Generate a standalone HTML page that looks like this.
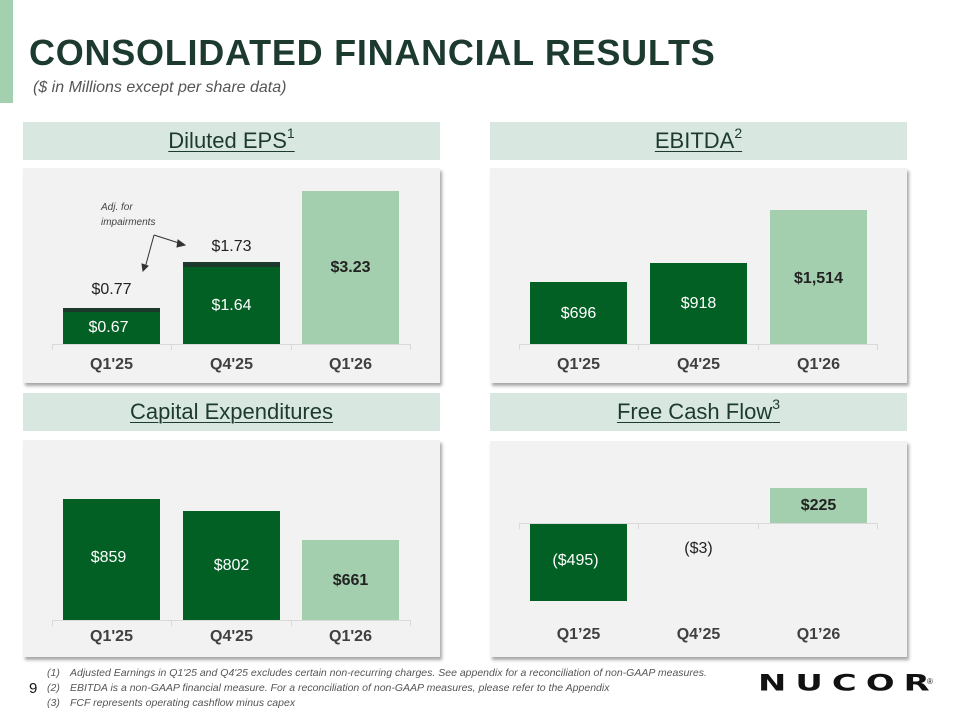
<!DOCTYPE html>
<html><head><meta charset="utf-8"><style>
*{margin:0;padding:0;box-sizing:border-box}
body{width:960px;height:720px;background:#fff;position:relative;overflow:hidden;font-family:"Liberation Sans",Arial,sans-serif}
.a{position:absolute}
.hdr{position:absolute;height:38px;background:#d8e8e1;text-align:center;font-size:22px;line-height:38px;color:#1d3a2c}
.hdr span{text-decoration:underline;text-decoration-thickness:1px;text-underline-offset:3px}
.hdr sup{font-size:14px;vertical-align:10px;line-height:0}
.pnl{position:absolute;background:#f2f2f2;box-shadow:2px 3px 3px rgba(0,0,0,.35)}
.bar{position:absolute;background:#036024}
.lt{background:#a3cfae}
.axis{position:absolute;height:1px;background:#d9d9d9}
.tk{position:absolute;width:1px;height:6px;background:#d9d9d9}
.lbl{position:absolute;width:97px;text-align:center;font-size:16px;font-weight:bold;color:#404040}
.v{position:absolute;width:97px;text-align:center;font-size:16px}
.w{color:#fff}.b{color:#222;font-weight:bold}.k{color:#222}
.fn{position:absolute;font-size:10.5px;font-style:italic;color:#555;left:47px}
.fn b{font-weight:normal;display:inline-block;width:23px}
</style></head><body>
<div class="a" style="left:0;top:0;width:13px;height:103px;background:#a3d0ae"></div>
<div class="a" style="left:29px;top:32px;font-size:36px;font-weight:bold;color:#1d3a2f;letter-spacing:0.75px">CONSOLIDATED FINANCIAL RESULTS</div>
<div class="a" style="left:33px;top:79px;font-size:16px;font-style:italic;color:#555">($ in Millions except per share data)</div>

<div class="hdr" style="left:23px;top:122px;width:417px"><span>Diluted EPS<sup>1</sup></span></div>
<div class="hdr" style="left:490px;top:122px;width:417px"><span>EBITDA<sup>2</sup></span></div>
<div class="hdr" style="left:23px;top:393px;width:417px"><span>Capital Expenditures</span></div>
<div class="hdr" style="left:490px;top:393px;width:417px"><span>Free Cash Flow<sup>3</sup></span></div>

<!-- EPS -->
<div class="pnl" style="left:23px;top:168px;width:417px;height:215px"></div>
<div class="axis" style="left:52px;top:344px;width:359px"></div>
<div class="tk" style="left:52px;top:344px"></div><div class="tk" style="left:171px;top:344px"></div><div class="tk" style="left:291px;top:344px"></div><div class="tk" style="left:410px;top:344px"></div>
<div class="bar" style="left:63px;top:308px;width:97px;height:36px;border-top:4px solid #1c3a2b"></div>
<div class="bar" style="left:183px;top:262px;width:97px;height:82px;border-top:5px solid #1c3a2b"></div>
<div class="bar lt" style="left:302px;top:191px;width:97px;height:153px"></div>
<div class="v k" style="left:63px;top:281px">$0.77</div>
<div class="v w" style="left:60px;top:319px">$0.67</div>
<div class="v k" style="left:183px;top:238px">$1.73</div>
<div class="v w" style="left:183px;top:297px">$1.64</div>
<div class="v b" style="left:302px;top:259px">$3.23</div>
<div class="a" style="left:101px;top:200px;font-size:10px;font-style:italic;color:#444;line-height:15px">Adj. for<br>impairments</div>
<svg class="a" style="left:135px;top:225px" width="55" height="50"><g stroke="#333" fill="#333" stroke-width="1"><path d="M19 10 L10 43" fill="none"/><path d="M19 10 L47 19" fill="none"/><path d="M8 46 L7 39 L13 41Z"/><path d="M50 20 L43 15 L42 22Z"/></g></svg>
<div class="lbl" style="left:63px;top:356px">Q1'25</div>
<div class="lbl" style="left:183px;top:356px">Q4'25</div>
<div class="lbl" style="left:302px;top:356px">Q1'26</div>

<!-- EBITDA -->
<div class="pnl" style="left:490px;top:168px;width:417px;height:215px"></div>
<div class="axis" style="left:519px;top:344px;width:359px"></div>
<div class="tk" style="left:519px;top:344px"></div><div class="tk" style="left:638px;top:344px"></div><div class="tk" style="left:758px;top:344px"></div><div class="tk" style="left:877px;top:344px"></div>
<div class="bar" style="left:530px;top:282px;width:97px;height:62px"></div>
<div class="bar" style="left:650px;top:263px;width:97px;height:81px"></div>
<div class="bar lt" style="left:770px;top:210px;width:97px;height:134px"></div>
<div class="v w" style="left:530px;top:305px">$696</div>
<div class="v w" style="left:650px;top:295px">$918</div>
<div class="v b" style="left:770px;top:270px">$1,514</div>
<div class="lbl" style="left:530px;top:356px">Q1'25</div>
<div class="lbl" style="left:650px;top:356px">Q4'25</div>
<div class="lbl" style="left:770px;top:356px">Q1'26</div>

<!-- Capex -->
<div class="pnl" style="left:23px;top:440px;width:417px;height:217px"></div>
<div class="axis" style="left:52px;top:620px;width:359px"></div>
<div class="tk" style="left:52px;top:620px"></div><div class="tk" style="left:171px;top:620px"></div><div class="tk" style="left:291px;top:620px"></div><div class="tk" style="left:410px;top:620px"></div>
<div class="bar" style="left:63px;top:499px;width:97px;height:121px"></div>
<div class="bar" style="left:183px;top:511px;width:97px;height:109px"></div>
<div class="bar lt" style="left:302px;top:540px;width:97px;height:80px"></div>
<div class="v w" style="left:60px;top:549px">$859</div>
<div class="v w" style="left:183px;top:557px">$802</div>
<div class="v b" style="left:302px;top:572px">$661</div>
<div class="lbl" style="left:63px;top:628px">Q1'25</div>
<div class="lbl" style="left:183px;top:628px">Q4'25</div>
<div class="lbl" style="left:302px;top:628px">Q1'26</div>

<!-- FCF -->
<div class="pnl" style="left:490px;top:441px;width:417px;height:216px"></div>
<div class="axis" style="left:519px;top:523px;width:359px"></div>
<div class="tk" style="left:519px;top:523px"></div><div class="tk" style="left:638px;top:523px"></div><div class="tk" style="left:758px;top:523px"></div><div class="tk" style="left:877px;top:523px"></div>
<div class="bar" style="left:530px;top:524px;width:97px;height:77px"></div>
<div class="bar lt" style="left:770px;top:488px;width:97px;height:35px"></div>
<div class="v w" style="left:527px;top:552px">($495)</div>
<div class="v k" style="left:650px;top:540px">($3)</div>
<div class="v b" style="left:770px;top:497px">$225</div>
<div class="lbl" style="left:530px;top:626px">Q1’25</div>
<div class="lbl" style="left:650px;top:626px">Q4’25</div>
<div class="lbl" style="left:770px;top:626px">Q1’26</div>

<div class="fn" style="top:667px"><b>(1)</b>Adjusted Earnings in Q1'25 and Q4'25 excludes certain non-recurring charges. See appendix for a reconciliation of non-GAAP measures.</div>
<div class="fn" style="top:682px"><b>(2)</b>EBITDA is a non-GAAP financial measure. For a reconciliation of non-GAAP measures, please refer to the Appendix</div>
<div class="fn" style="top:697px"><b>(3)</b>FCF represents operating cashflow minus capex</div>
<div class="a" style="left:29px;top:680px;font-size:15px;color:#111">9</div>
<div class="a" style="left:758px;top:671px;font-size:26px;font-weight:bold;color:#111;letter-spacing:7px;transform:scale(1.3,0.85);transform-origin:left top;line-height:30px;font-family:'DejaVu Sans',sans-serif">NUCOR</div>
<div class="a" style="left:927px;top:677px;font-size:8px;color:#111">®</div>
</body></html>
